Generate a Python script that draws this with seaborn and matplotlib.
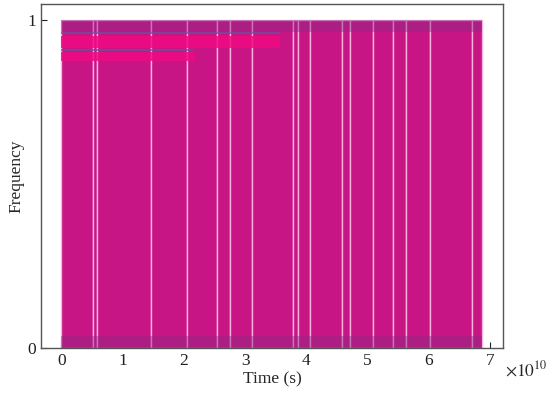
import numpy as np
import pandas as pd
import matplotlib
matplotlib.use("Agg")
import matplotlib.pyplot as plt
import seaborn as sns

# Bin edges of the histogram (in units of 1e10 s)
bin_edges = [0.0, 0.52, 0.59, 1.47, 2.06, 2.54, 2.76, 3.12, 3.78, 3.87,
             4.06, 4.58, 4.71, 5.09, 5.42, 5.63, 6.02, 6.70, 6.87]
# one event per bin -> frequency 1 in every bin
counts = [1] * (len(bin_edges) - 1)
x_ticks = [0, 1, 2, 3, 4, 5, 6, 7]
y_ticks = [0, 1]
band_levels = [(0.0, 0.037), (0.963, 1.0)]
# overlaid horizontal strips near the top (end in 1e10 s, level, thickness)
strip_ends = [3.57, 2.19]
strip_levels = [0.933, 0.888]
strip_heights = [0.036, 0.027]
line_ends = [3.57, 2.16]
line_levels = [0.961, 0.909]

scale = 1e10
centers = [(bin_edges[i] + bin_edges[i + 1]) / 2 * scale for i in range(len(counts))]
samples = np.repeat(centers, counts)
df = pd.DataFrame({"time": samples})

sns.set_style("ticks")
plt.rcParams["font.family"] = ["Liberation Serif", "DejaVu Serif"]
plt.rcParams["mathtext.fontset"] = "stix"

fig = plt.figure(figsize=(5.5, 3.97), dpi=100)
ax = fig.add_axes([0.0745, 0.1234, 0.84, 0.8666])

sns.histplot(data=df, x="time", bins=np.array(bin_edges) * scale, ax=ax,
             color="#C71585", alpha=1.0, edgecolor="#F9B3DE", linewidth=1.0)

for lo, hi in band_levels:
    ax.fill_between([bin_edges[0] * scale, bin_edges[-1] * scale], lo, hi,
                    color="#8E2A86", alpha=0.45, linewidth=0)

ax.barh(strip_levels, [e * scale for e in strip_ends], height=strip_heights,
        left=0, color="#F00A82", alpha=0.85, linewidth=0)
ax.barh(line_levels, [e * scale for e in line_ends], height=0.007,
        left=0, color="#6C4F9E", alpha=0.75, linewidth=0)

ax.set_xlim(-0.33 * scale, 7.21 * scale)
ax.set_ylim(0, 1.049)
ax.set_xticks([t * scale for t in x_ticks])
ax.set_xticklabels([str(t) for t in x_ticks])
ax.set_yticks(y_ticks)
ax.set_yticklabels([str(t) for t in y_ticks])
ax.tick_params(direction="in", length=4, labelsize=12.5, colors="#222222")
for s in ax.spines.values():
    s.set_color("#555555")
    s.set_linewidth(1.0)

ax.set_xlabel("Time (s)", fontsize=12.5, labelpad=2)
ax.set_ylabel("Frequency", fontsize=12.5, labelpad=2)
ax.text(1.005, -0.035, r"$\times 10^{10}$", transform=ax.transAxes,
        fontsize=12.5, ha="left", va="top")

fig.savefig("out.png", dpi=100)
